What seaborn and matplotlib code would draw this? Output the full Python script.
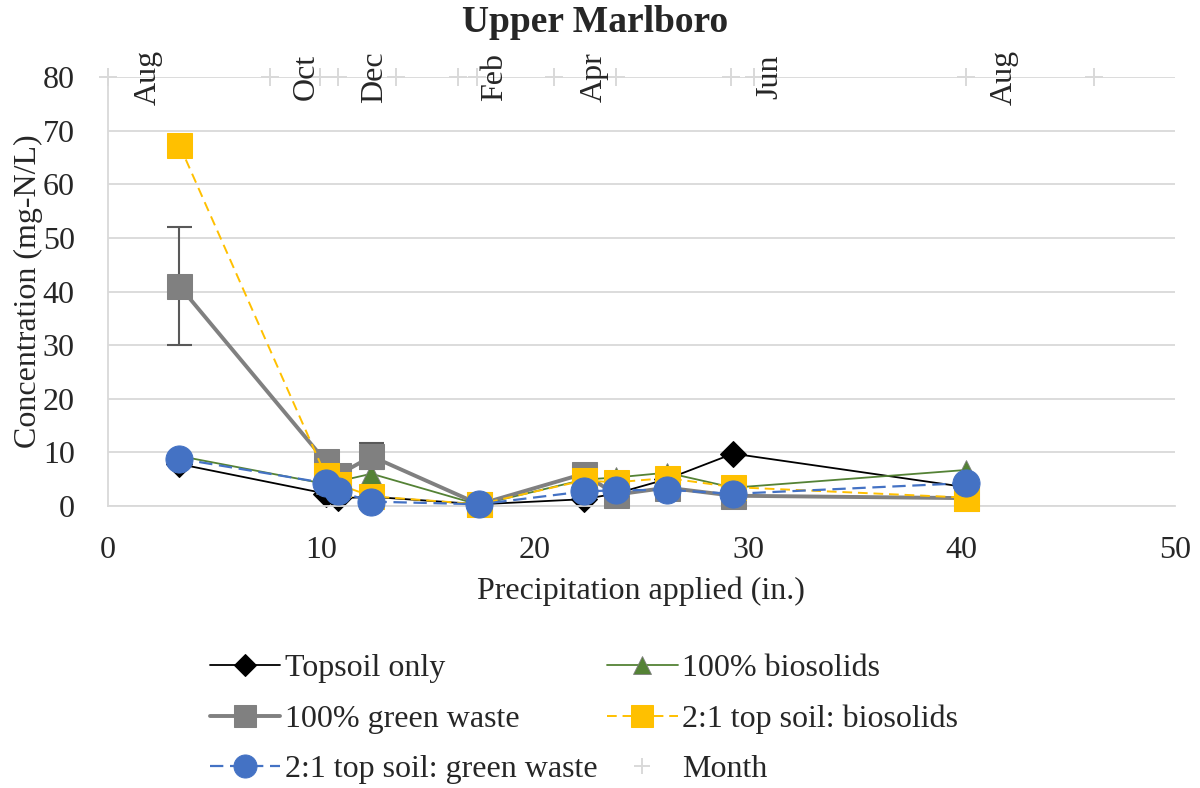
import matplotlib
matplotlib.use("Agg")
import matplotlib.pyplot as plt
import seaborn as sns
import pandas as pd

sns.set_theme(style="white")
plt.rcParams["font.family"] = ["Liberation Serif", "DejaVu Serif"]

# Cumulative precipitation at each sampling event (in.)
precip = [3.35, 10.2, 10.8, 12.35, 17.4, 22.3, 23.8, 26.2, 29.3, 40.2]

# Nitrogen concentration in leachate (mg-N/L)
topsoil_only = [7.8, 2.3, 1.4, 1.7, 0.3, 1.25, 2.3, 5.0, 9.75, 3.5]
biosolids_100 = [9.3, 4.1, 4.6, 6.0, 0.2, 4.9, 5.3, 6.2, 3.4, 6.7]
green_waste_100 = [41.0, 8.3, 5.8, 9.25, 0.3, 6.0, 2.1, 3.4, 1.9, 1.45]
green_waste_err = [11.0, 0.0, 0.0, 2.4, 0.0, 0.0, 0.0, 0.0, 0.0, 0.0]
soil_biosolids_21 = [67.3, 5.7, 4.0, 1.8, 0.3, 4.75, 4.4, 5.2, 3.5, 1.55]
soil_green_waste_21 = [8.8, 4.25, 2.7, 0.8, 0.3, 2.7, 2.9, 3.0, 2.25, 4.25]

# Month boundaries on the precipitation axis
month_ticks = [0, 7.57, 9.93, 10.78, 13.5, 16.4, 17.3, 20.9, 23.8, 29.2, 30.3, 40.2, 46.2]
month_level = 80
month_names = ["Aug", "Oct", "Dec", "Feb", "Apr", "Jun", "Aug"]
month_name_x = [1.9, 9.3, 12.5, 18.1, 22.8, 31.0, 42.0]

FS = 23

fig = plt.figure(figsize=(12, 7.88), dpi=100)
ax = fig.add_axes([0.09, 0.358, 0.889, 0.544])

grid_c = "#d9d9d9"

series = [
    ("Topsoil only", topsoil_only, dict(color="black", marker="D", markersize=13,
                                        linewidth=1.3, linestyle="-"), 2),
    ("100% biosolids", biosolids_100, dict(color="#548235", marker="^", markersize=15,
                                           markeredgecolor="#7f7f7f", markeredgewidth=0.6,
                                           linewidth=1.3, linestyle="-"), 3),
    ("100% green waste", green_waste_100, dict(color="#808080", marker="s", markersize=18,
                                               linewidth=2.8, linestyle="-"), 4),
    ("2:1 top soil: biosolids", soil_biosolids_21, dict(color="#ffc000", marker="s", markersize=18,
                                                        linewidth=1.4, linestyle=(0, (5, 3))), 5),
    ("2:1 top soil: green waste", soil_green_waste_21, dict(color="#4472c4", marker="o", markersize=19.5,
                                                           linewidth=1.6, linestyle=(0, (6, 3))), 6),
]

for name, vals, style, z in series:
    df = pd.DataFrame({"precip": precip, "conc": vals})
    if "markeredgecolor" not in style:
        style = dict(style, markeredgecolor=style["color"])
    sns.lineplot(data=df, x="precip", y="conc", ax=ax, label=name, zorder=z,
                 clip_on=False, **style)

ax.errorbar(precip, green_waste_100, yerr=green_waste_err, fmt="none",
            ecolor="#595959", elinewidth=1.5, capsize=9, capthick=1.5, zorder=3.5)

month_df = pd.DataFrame({"precip": month_ticks, "level": [month_level] * len(month_ticks)})
sns.lineplot(data=month_df, x="precip", y="level", ax=ax, label="Month", linestyle="none",
             marker="+", markersize=13, markeredgewidth=1.4, color=grid_c,
             markeredgecolor=grid_c, clip_on=False, zorder=1.5)

for x, name in zip(month_name_x, month_names):
    ax.text(x, month_level, name, rotation=90, ha="center", va="center", fontsize=FS,
            zorder=7)

ax.set_xlim(0, 50)
ax.set_ylim(0, 80)
ax.set_xticks(range(0, 51, 10))
ax.set_yticks(range(0, 81, 10))
ax.tick_params(axis="both", length=0, labelsize=FS)
ax.tick_params(axis="x", pad=22)
ax.tick_params(axis="y", pad=24)
ax.yaxis.grid(True, color=grid_c, linewidth=1.3)
ax.set_axisbelow(True)
for s in ["top", "right"]:
    ax.spines[s].set_visible(False)
for s in ["left", "bottom"]:
    ax.spines[s].set_color(grid_c)
    ax.spines[s].set_linewidth(1.3)

ax.set_xlabel("Precipitation applied (in.)", fontsize=FS, labelpad=8)
ax.set_ylabel("Concentration (mg-N/L)", fontsize=FS, labelpad=0)
fig.text(0.496, 0.972, "Upper Marlboro", ha="center", va="center", fontsize=27,
         fontweight="bold")

handles, labels = ax.get_legend_handles_labels()
ax.get_legend().remove()
order = [0, 2, 4, 1, 3, 5]
fig.legend([handles[i] for i in order], [labels[i] for i in order], ncol=2,
           loc="upper left", bbox_to_anchor=(0.175, 0.170), frameon=False,
           fontsize=FS, handlelength=2.2, handletextpad=0.15, columnspacing=0.3,
           labelspacing=0.66, markerscale=0.85, borderpad=0, borderaxespad=0)

fig.savefig("out.png", dpi=100)
